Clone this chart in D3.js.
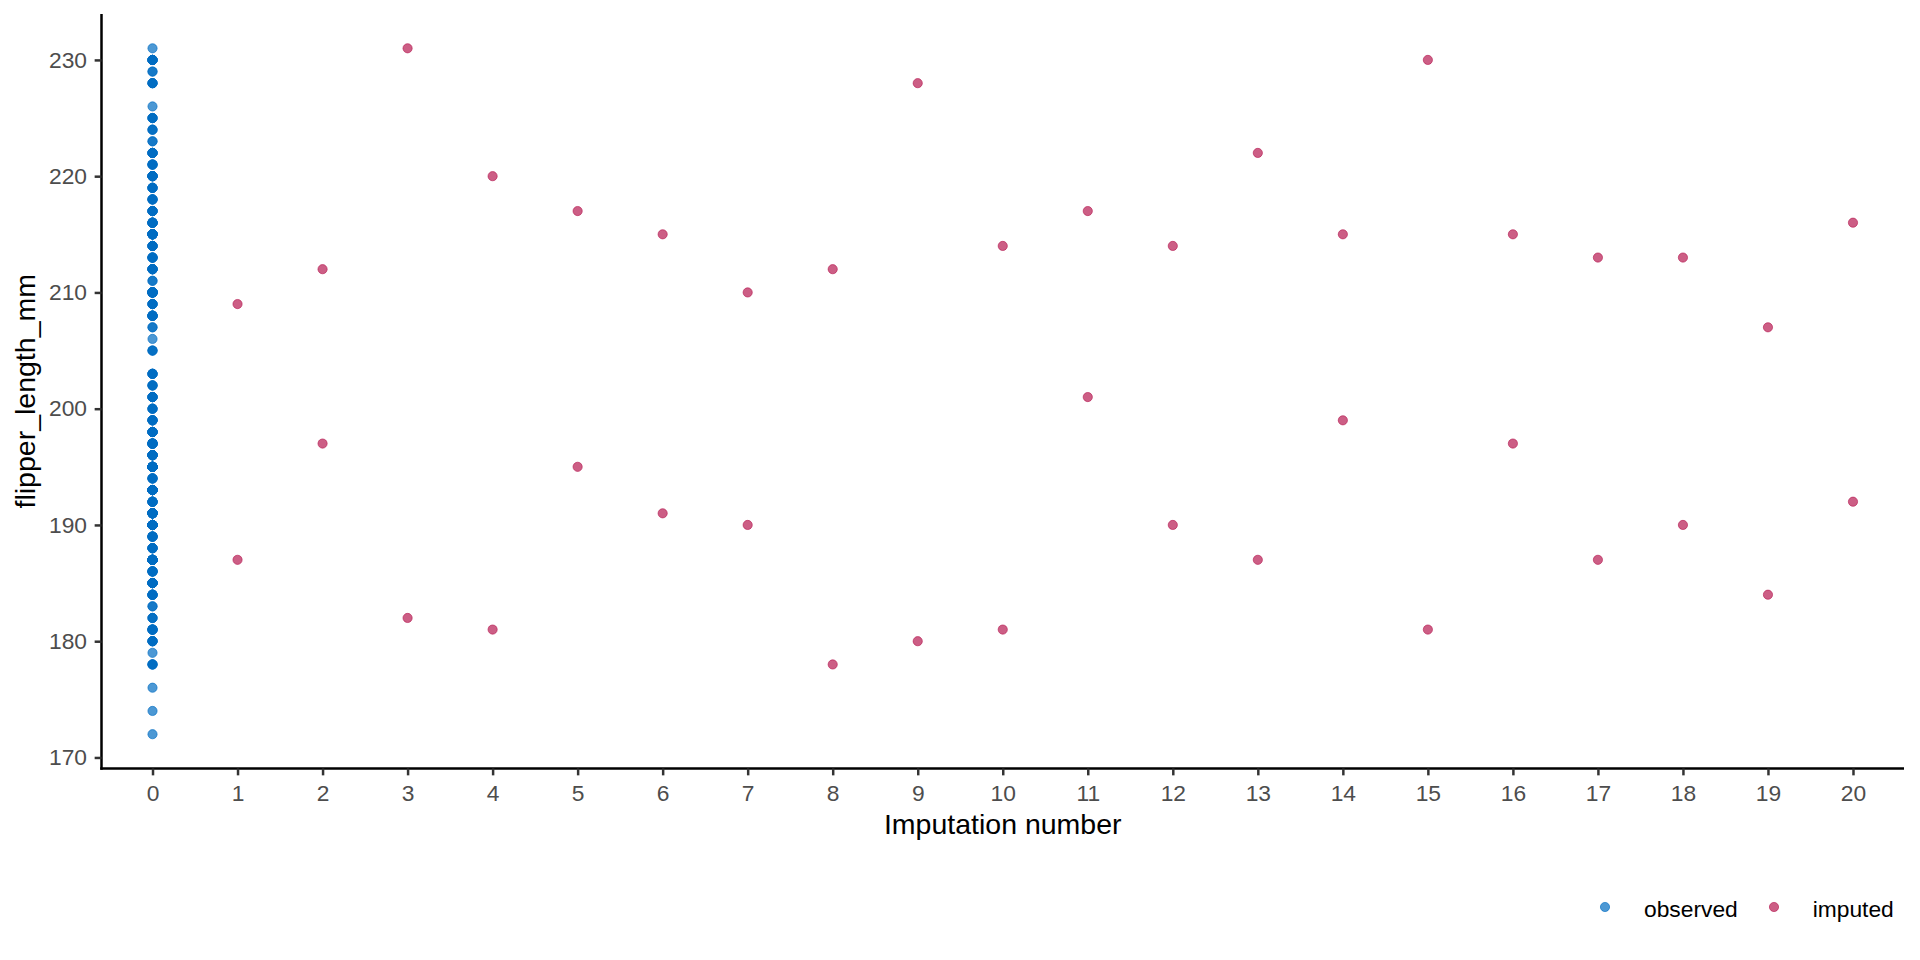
<!DOCTYPE html>
<html>
<head>
<meta charset="utf-8">
<script src="https://cdn.jsdelivr.net/npm/d3@7"></script>
<style>
  html, body { margin: 0; padding: 0; background: #fff; }
  svg { display: block; font-family: "Liberation Sans", Arial, sans-serif; }
</style>
</head>
<body>
<svg id="chart" width="1920" height="960"></svg>
<script>
// ---- data ----
const imputationLabels = ["0","1","2","3","4","5","6","7","8","9","10","11","12","13","14","15","16","17","18","19","20"];
const yTickValues = [170, 180, 190, 200, 210, 220, 230];

// observed flipper lengths (imputation 0) and how many penguins share each value
const observedLengths = [172,174,176,178,179,180,181,182,183,184,185,186,187,188,189,190,191,192,193,194,195,196,197,198,199,200,201,202,203,205,206,207,208,209,210,211,212,213,214,215,216,217,218,219,220,221,222,223,224,225,226,228,229,230,231];
const observedCounts  = [1,1,1,4,1,5,7,3,2,7,9,7,16,6,7,22,13,7,15,5,17,10,10,8,6,4,6,4,5,3,1,2,8,5,14,2,7,6,6,12,8,6,5,5,8,5,6,2,3,4,1,4,2,7,1];

// imputed values for the two missing rows, imputations 1..20
const imputationIds = [1,2,3,4,5,6,7,8,9,10,11,12,13,14,15,16,17,18,19,20];
const imputedFirst  = [209,212,231,220,217,215,210,212,228,214,217,214,222,215,230,215,213,213,207,216];
const imputedSecond = [187,197,182,181,195,191,190,178,180,181,201,190,187,199,181,197,187,190,184,192];

const seriesNames = ["observed", "imputed"];
const seriesColors = ["#006CC2", "#B61A51"];

// ---- layout ----
const panel = { left: 101.5, right: 1904, top: 14, bottom: 768.5 };
const svg = d3.select("#chart");
const tickFont = 22.8, titleFont = 28.5;

const x = d3.scaleLinear().domain([-0.6, 20.6]).range([panel.left, panel.right]);
const y = d3.scaleLinear().domain([169.05, 233.95]).range([panel.bottom, panel.top]);
const color = d3.scaleOrdinal().domain(seriesNames).range(seriesColors);

// points
const observedPts = [];
observedLengths.forEach((v, i) => {
  for (let k = 0; k < observedCounts[i]; k++) observedPts.push({ imp: 0, value: v, type: "observed" });
});
const imputedPts = [];
imputationIds.forEach((id, i) => {
  imputedPts.push({ imp: id, value: imputedFirst[i], type: "imputed" });
  imputedPts.push({ imp: id, value: imputedSecond[i], type: "imputed" });
});
const allPts = observedPts.concat(imputedPts);

const R = 4.6;
svg.append("g").selectAll("circle").data(allPts).join("circle")
  .attr("cx", d => x(d.imp))
  .attr("cy", d => y(d.value))
  .attr("r", R)
  .attr("fill", d => color(d.type))
  .attr("fill-opacity", 0.7)
  .attr("stroke", d => color(d.type))
  .attr("stroke-opacity", 0.7)
  .attr("stroke-width", 0.9);

// axes
const xAxis = d3.axisBottom(x)
  .tickValues(imputationLabels.map(Number))
  .tickFormat((d, i) => imputationLabels[i])
  .tickSize(6.85).tickPadding(9.5).tickSizeOuter(0);
const gx = svg.append("g").attr("transform", `translate(0,${panel.bottom})`).call(xAxis);
gx.select(".domain").attr("stroke", "#000").attr("stroke-width", 2.5)
  .attr("d", `M${panel.left - 1.25},0H${panel.right}`);
gx.selectAll(".tick line").attr("stroke", "#333333").attr("stroke-width", 2.5);
gx.selectAll(".tick text").attr("fill", "#4D4D4D").attr("font-size", tickFont)
  .attr("font-family", "Liberation Sans, Arial, sans-serif");

const yAxis = d3.axisLeft(y)
  .tickValues(yTickValues)
  .tickFormat(d3.format("d"))
  .tickSize(6.85).tickPadding(7.6).tickSizeOuter(0);
const gy = svg.append("g").attr("transform", `translate(${panel.left},0)`).call(yAxis);
gy.select(".domain").attr("stroke", "#000").attr("stroke-width", 2.5)
  .attr("d", `M0,${panel.top}V${panel.bottom + 1.25}`);
gy.selectAll(".tick line").attr("stroke", "#333333").attr("stroke-width", 2.5);
gy.selectAll(".tick text").attr("fill", "#4D4D4D").attr("font-size", tickFont)
  .attr("font-family", "Liberation Sans, Arial, sans-serif");

// axis titles
svg.append("text")
  .attr("x", (panel.left + panel.right) / 2).attr("y", 834.3)
  .attr("text-anchor", "middle").attr("font-size", titleFont).attr("fill", "#000")
  .text("Imputation number");
const ytx = 35, yty = (panel.top + panel.bottom) / 2;
svg.append("text")
  .attr("x", ytx).attr("y", yty)
  .attr("transform", `rotate(-90,${ytx},${yty})`)
  .attr("text-anchor", "middle").attr("font-size", titleFont).attr("fill", "#000")
  .text("flipper_length_mm");

// legend
const legendX = [1605, 1774];
const legendTextX = [1644, 1812.7];
const lg = svg.append("g");
seriesNames.forEach((name, i) => {
  lg.append("circle").attr("cx", legendX[i]).attr("cy", 907).attr("r", R)
    .attr("fill", color(name)).attr("fill-opacity", 0.7)
    .attr("stroke", color(name)).attr("stroke-opacity", 0.7).attr("stroke-width", 0.9);
  lg.append("text").attr("x", legendTextX[i]).attr("y", 916.5)
    .attr("font-size", tickFont).attr("fill", "#000").text(name);
});
</script>
</body>
</html>
